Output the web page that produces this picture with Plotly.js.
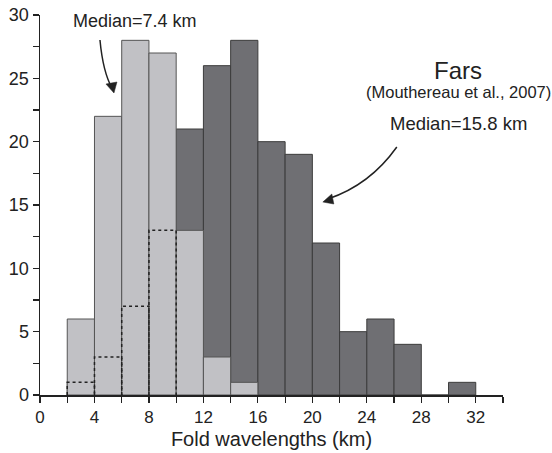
<!DOCTYPE html>
<html><head><meta charset="utf-8">
<script src="https://cdn.plot.ly/plotly-3.0.1.min.js"></script>
<style>html,body{margin:0;padding:0;background:#fff}</style>
</head><body>
<div id="chart" style="width:552px;height:453px"></div>
<script>
// Bin centres (km), bin width 2 km
var binCenters = [3,5,7,9,11,13,15,17,19,21,23,25,27,29,31];
var farsCounts = [1,3,7,13,21,26,28,20,19,12,5,6,4,0,1];
var otherCenters = [3,5,7,9,11,13,15];
var otherCounts = [6,22,28,27,13,3,1];
var hiddenCenters = [3,5,7,9];
var hiddenCounts = [1,3,7,13];
var xTickVals = [0,2,4,6,8,10,12,14,16,18,20,22,24,26,28,30,32,34];
var xTickText = ['0','','4','','8','','12','','16','','20','','24','','28','','32',''];
var yTickVals = [0,2.5,5,7.5,10,12.5,15,17.5,20,22.5,25,27.5,30];
var yTickText = ['0','','5','','10','','15','','20','','25','','30'];
var binWidth = 2;

// dotted outline of the Fars bars hidden behind the light bars
var dx = [], dy = [];
hiddenCenters.forEach(function(c,i){
  dx.push(c-binWidth/2, c-binWidth/2, c+binWidth/2, c+binWidth/2, null);
  dy.push(0, hiddenCounts[i], hiddenCounts[i], 0, null);
});

var traces = [
  {type:'bar', x:binCenters, y:farsCounts, width:binWidth,
   marker:{color:'#6f6f73', line:{color:'#3c3c3c', width:1}}, hoverinfo:'none'},
  {type:'bar', x:otherCenters, y:otherCounts, width:binWidth,
   marker:{color:'#c1c1c5', line:{color:'#555', width:1}}, hoverinfo:'none'},
  {type:'scatter', mode:'lines', x:dx, y:dy,
   line:{color:'#222', width:1.5, dash:'dot'}, hoverinfo:'none'}
];

function px2x(p){return (p-40)/13.625;}
function py2y(p){return (395-p)/12.667;}
function P(px,py){return px2x(px)+','+py2y(py);}

var layout = {
  width:552, height:453,
  margin:{l:40, r:49, t:15, b:58},
  paper_bgcolor:'#fff', plot_bgcolor:'#fff',
  showlegend:false, barmode:'overlay', bargap:0,
  font:{family:'Liberation Sans, Arial, sans-serif', color:'#222'},
  xaxis:{range:[0,34], tickvals:xTickVals, ticktext:xTickText, automargin:false,
    ticks:'outside', ticklen:6, tickwidth:1.2, tickcolor:'#222',
    showline:true, linecolor:'#222', linewidth:1.5, showgrid:false, zeroline:false,
    tickfont:{size:17, color:'#222'},
    title:{text:'Fold wavelengths (km)', font:{size:20, color:'#222'}, standoff:6}},
  yaxis:{range:[0,30], tickvals:yTickVals, ticktext:yTickText, automargin:false,
    ticks:'outside', ticklen:6, tickwidth:1.2, tickcolor:'#222',
    showline:true, linecolor:'#222', linewidth:1.5, showgrid:false, zeroline:false,
    tickfont:{size:18, color:'#222'}},
  shapes:[
    {type:'path', xref:'x', yref:'y', path:'M'+P(100,40)+' Q'+P(103,72)+' '+P(112,88),
     line:{color:'#222', width:1.5}},
    {type:'path', xref:'x', yref:'y', path:'M'+P(114,93)+' L'+P(106,84)+' L'+P(117,82)+' Z',
     fillcolor:'#222', line:{color:'#222', width:0.5}},
    {type:'path', xref:'x', yref:'y', path:'M'+P(397,147)+' Q'+P(370,185)+' '+P(328,199),
     line:{color:'#222', width:1.5}},
    {type:'path', xref:'x', yref:'y', path:'M'+P(323,202)+' L'+P(332,194)+' L'+P(334,204)+' Z',
     fillcolor:'#222', line:{color:'#222', width:0.5}}
  ],
  annotations:[
    {xref:'paper', yref:'paper', x:(135-40)/463, y:(395-21)/380, text:'Median=7.4 km',
     showarrow:false, font:{size:18, color:'#222'}, xanchor:'center', yanchor:'middle'},
    {xref:'paper', yref:'paper', x:(458-40)/463, y:(395-70)/380, text:'Fars',
     showarrow:false, font:{size:24, color:'#222'}, xanchor:'center', yanchor:'middle'},
    {xref:'paper', yref:'paper', x:(458-40)/463, y:(395-92)/380, text:'(Mouthereau et al., 2007)',
     showarrow:false, font:{size:16.5, color:'#222'}, xanchor:'center', yanchor:'middle'},
    {xref:'paper', yref:'paper', x:(458-40)/463, y:(395-123)/380, text:'Median=15.8 km',
     showarrow:false, font:{size:18.5, color:'#222'}, xanchor:'center', yanchor:'middle'}
  ]
};
Plotly.newPlot('chart', traces, layout, {displayModeBar:false, staticPlot:true});
</script>
</body></html>
